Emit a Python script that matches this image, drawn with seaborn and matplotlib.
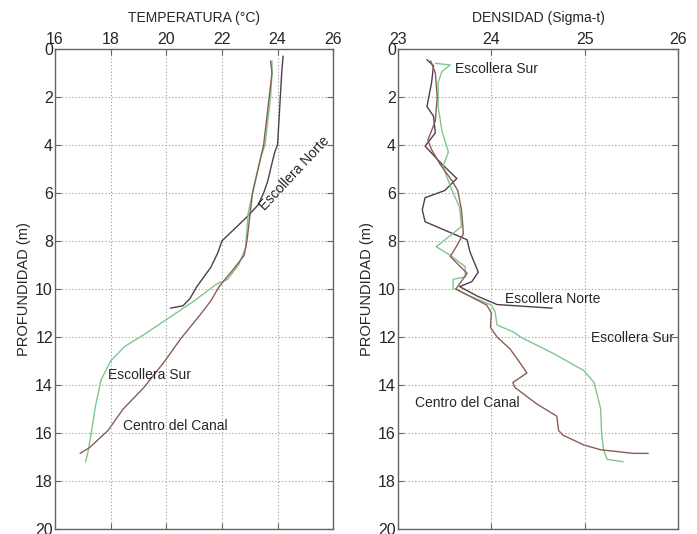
import pandas as pd
import matplotlib
matplotlib.use("Agg")
import matplotlib.pyplot as plt
import seaborn as sns

# --- data (depth in m) ---
stations = ["Escollera Norte", "Escollera Sur", "Centro del Canal"]

# Temperatura (°C)
norte_t_depth = [0.3, 1.0, 2.0, 3.0, 4.0, 4.3, 5.0, 5.5, 6.0, 6.5, 7.0, 7.5, 8.0, 8.5,
                 9.1, 9.9, 10.4, 10.7, 10.8]
norte_t = [24.2, 24.15, 24.1, 24.05, 24.0, 23.9, 23.75, 23.65, 23.5, 23.3, 22.9, 22.45,
           22.0, 21.85, 21.6, 21.1, 20.85, 20.6, 20.15]

sur_t_depth = [0.5, 1.0, 2.0, 3.0, 4.0, 4.5, 5.0, 5.5, 6.0, 6.8, 7.5, 8.3, 9.0, 9.6, 9.8,
               10.5, 11.2, 11.9, 12.4, 13.0, 13.8, 14.9, 16.0, 16.7, 17.2]
sur_t = [23.8, 23.8, 23.75, 23.65, 23.55, 23.4, 23.3, 23.2, 23.1, 22.95, 22.9, 22.85,
         22.6, 22.2, 21.8, 21.0, 20.1, 19.2, 18.5, 18.0, 17.65, 17.45, 17.3, 17.2, 17.1]

centro_t_depth = [0.5, 1.0, 2.0, 3.0, 4.0, 4.5, 5.0, 6.0, 7.0, 8.0, 8.6, 9.2, 9.9, 10.5,
                  11.1, 12.1, 13.0, 14.1, 15.0, 15.9, 16.6, 16.85]
centro_t = [23.75, 23.8, 23.7, 23.6, 23.5, 23.4, 23.3, 23.1, 23.0, 22.9, 22.8, 22.4, 21.9,
            21.6, 21.2, 20.5, 19.95, 19.2, 18.45, 17.9, 17.25, 16.9]

# Densidad (Sigma-t)
norte_d_depth = [0.45, 0.7, 1.4, 2.4, 2.8, 3.5, 4.05, 4.8, 5.4, 5.9, 6.2, 6.7, 7.2, 7.95,
                 8.45, 9.3, 9.7, 9.9, 10.3, 10.65, 10.8]
norte_d = [23.31, 23.38, 23.36, 23.31, 23.38, 23.40, 23.29, 23.47, 23.63, 23.50, 23.29,
           23.26, 23.29, 23.74, 23.77, 23.86, 23.79, 23.66, 23.85, 24.06, 24.65]

sur_d_depth = [0.6, 0.67, 0.94, 1.4, 2.4, 3.4, 3.8, 4.3, 4.9, 5.7, 6.0, 6.6, 7.4, 8.24,
               8.6, 9.07, 9.5, 9.6, 9.97, 10.3, 10.67, 10.95, 11.5, 11.8, 12.0, 12.7, 13.4,
               13.9, 15.0, 16.0, 16.7, 17.1, 17.2]
sur_d = [23.40, 23.56, 23.47, 23.43, 23.43, 23.47, 23.50, 23.54, 23.48, 23.56, 23.59,
         23.66, 23.68, 23.41, 23.56, 23.72, 23.72, 23.59, 23.59, 23.77, 24.0, 24.04, 24.06,
         24.24, 24.31, 24.67, 24.99, 25.10, 25.17, 25.18, 25.2, 25.24, 25.41]

centro_d_depth = [0.5, 1.0, 2.0, 3.0, 3.8, 4.2, 4.8, 5.5, 5.9, 6.7, 7.7, 8.2, 8.65, 9.35,
                  10.0, 10.67, 11.0, 11.6, 12.0, 12.5, 13.1, 13.5, 13.9, 14.1, 14.8, 15.3,
                  15.9, 16.1, 16.5, 16.7, 16.85, 16.85]
centro_d = [23.35, 23.4, 23.42, 23.4, 23.32, 23.36, 23.45, 23.58, 23.64, 23.68, 23.70,
            23.63, 23.56, 23.74, 23.62, 23.95, 24.0, 23.99, 24.06, 24.2, 24.31, 24.38,
            24.23, 24.25, 24.49, 24.70, 24.72, 24.77, 24.99, 25.17, 25.52, 25.68]

colors = {"Escollera Norte": "#4f3e4c", "Escollera Sur": "#80c68c",
          "Centro del Canal": "#8a5e57"}


def long_df(series):
    frames = []
    for name, val, dep in series:
        frames.append(pd.DataFrame({"valor": val, "prof": dep, "estacion": name}))
    return pd.concat(frames, ignore_index=True)


temp = long_df([("Escollera Norte", norte_t, norte_t_depth),
                ("Escollera Sur", sur_t, sur_t_depth),
                ("Centro del Canal", centro_t, centro_t_depth)])
dens = long_df([("Escollera Norte", norte_d, norte_d_depth),
                ("Escollera Sur", sur_d, sur_d_depth),
                ("Centro del Canal", centro_d, centro_d_depth)])

sns.set_style("white")
plt.rcParams["font.family"] = ["Liberation Sans", "DejaVu Sans"]

fig = plt.figure(figsize=(6.97, 5.34), dpi=100)
ax1 = fig.add_axes([0.079, 0.0094, 0.399, 0.899])
ax2 = fig.add_axes([0.571, 0.0094, 0.402, 0.899])

spine_c = "#6e6260"
for ax, df, xlim, xticks, title in [
        (ax1, temp, (16, 26), [16, 18, 20, 22, 24, 26], "TEMPERATURA (°C)"),
        (ax2, dens, (23, 26), [23, 24, 25, 26], "DENSIDAD (Sigma-t)")]:
    sns.lineplot(data=df, x="valor", y="prof", hue="estacion", hue_order=stations,
                 palette=colors, sort=False, estimator=None, linewidth=1.0,
                 legend=False, ax=ax)
    ax.set_xlim(*xlim)
    ax.set_ylim(20, 0)
    ax.set_xticks(xticks)
    ax.set_yticks(range(0, 21, 2))
    ax.xaxis.set_label_position("top")
    ax.set_xlabel(title, fontsize=10, labelpad=7)
    ax.set_ylabel("PROFUNDIDAD (m)", fontsize=10.5, labelpad=3)
    ax.tick_params(top=True, bottom=True, left=True, right=True, direction="in",
                   labeltop=True, labelbottom=False, labelsize=11.5, length=4,
                   color=spine_c, pad=1.5)
    ax.grid(True, linestyle=(0, (1, 2)), color="#9a9a9a", linewidth=0.8)
    for s in ax.spines.values():
        s.set_color(spine_c)
        s.set_linewidth(1.0)

# annotations
ax1.text(24.6, 5.2, "Escollera Norte", rotation=47, fontsize=10,
         ha="center", va="center")
ax1.text(17.9, 13.6, "Escollera Sur", fontsize=10, ha="left", va="center")
ax1.text(18.45, 15.7, "Centro del Canal", fontsize=10, ha="left", va="center")

ax2.text(23.61, 0.85, "Escollera Sur", fontsize=10, ha="left", va="center")
ax2.text(24.15, 10.4, "Escollera Norte", fontsize=10, ha="left", va="center")
ax2.text(25.07, 12.05, "Escollera Sur", fontsize=10, ha="left", va="center",
         clip_on=True)
ax2.text(23.18, 14.75, "Centro del Canal", fontsize=10, ha="left", va="center")

fig.savefig("out.png", dpi=100)
